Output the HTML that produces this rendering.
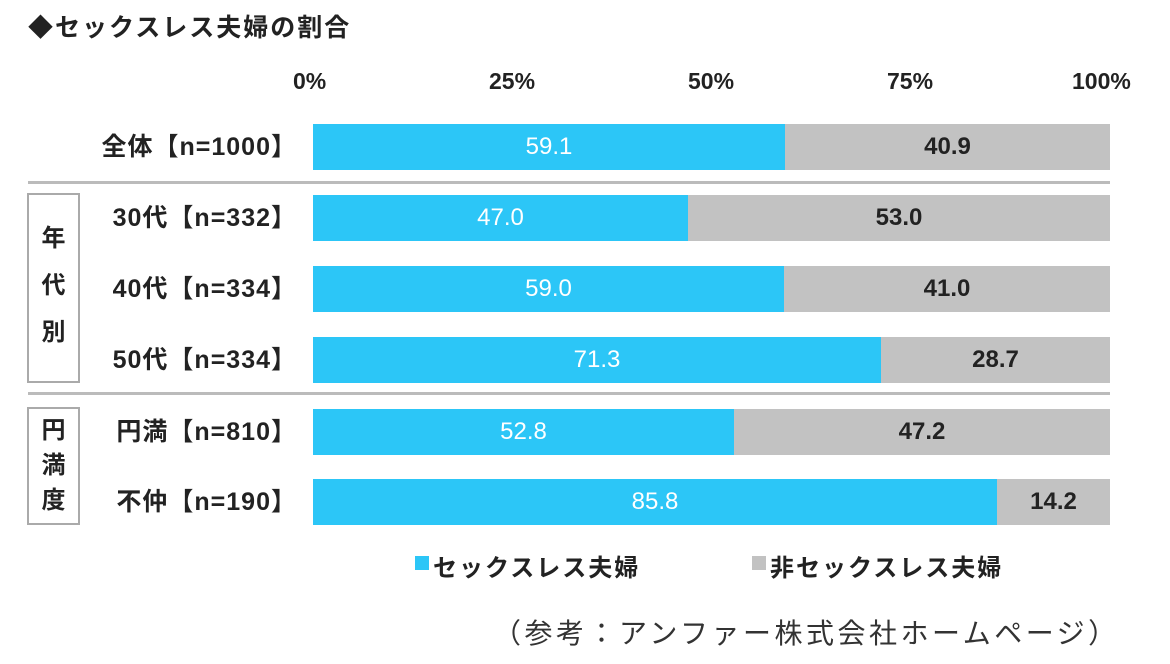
<!DOCTYPE html><html><head><meta charset="utf-8"><style>
body{margin:0;width:1170px;height:664px;background:#fff;position:relative;overflow:hidden;font-family:"Liberation Sans","Noto Sans CJK JP",sans-serif;font-weight:bold;color:#222}
.a{position:absolute;white-space:nowrap}
.t{font-size:23px}
.bar{position:absolute;height:46px;display:flex;align-items:center;justify-content:center;font-size:24px;font-weight:normal}
.b{background:#2cc6f7;color:#fff;left:313px}
.g{background:#c2c2c2;color:#222;font-weight:bold}
.lab{position:absolute;right:873px;font-size:25px;letter-spacing:1px;height:46px;line-height:46px}
.box{position:absolute;left:27px;width:53px;border:2px solid #aaa;box-sizing:border-box;font-size:24px;text-align:center}
.hl{position:absolute;left:28px;width:1082px;height:3px;background:#bbb}
</style></head><body>
<div class="a" style="left:28px;top:8px;font-size:25px;letter-spacing:2px">◆セックスレス夫婦の割合</div>
<div class="a t" style="left:293px;top:68px">0%</div>
<div class="a t" style="left:489px;top:68px">25%</div>
<div class="a t" style="left:688px;top:68px">50%</div>
<div class="a t" style="left:887px;top:68px">75%</div>
<div class="a t" style="left:1072px;top:68px">100%</div>

<div class="lab" style="top:124px">全体【n=1000】</div>
<div class="bar b" style="top:124px;width:472px">59.1</div>
<div class="bar g" style="top:124px;left:785px;width:325px">40.9</div>
<div class="hl" style="top:181px"></div>

<div class="lab" style="top:195px">30代【n=332】</div>
<div class="bar b" style="top:195px;width:375px">47.0</div>
<div class="bar g" style="top:195px;left:688px;width:422px">53.0</div>
<div class="lab" style="top:266px">40代【n=334】</div>
<div class="bar b" style="top:266px;width:471px">59.0</div>
<div class="bar g" style="top:266px;left:784px;width:326px">41.0</div>
<div class="lab" style="top:337px">50代【n=334】</div>
<div class="bar b" style="top:337px;width:568px">71.3</div>
<div class="bar g" style="top:337px;left:881px;width:229px">28.7</div>
<div class="box" style="top:193px;height:190px;padding-top:20px;line-height:47px">年<br>代<br>別</div>
<div class="hl" style="top:392px"></div>

<div class="lab" style="top:409px">円満【n=810】</div>
<div class="bar b" style="top:409px;width:421px">52.8</div>
<div class="bar g" style="top:409px;left:734px;width:376px">47.2</div>
<div class="lab" style="top:479px">不仲【n=190】</div>
<div class="bar b" style="top:479px;width:684px">85.8</div>
<div class="bar g" style="top:479px;left:997px;width:113px">14.2</div>
<div class="box" style="top:407px;height:118px;padding-top:4px;line-height:35px">円<br>満<br>度</div>

<div class="a" style="left:415px;top:556px;width:14px;height:14px;background:#2cc6f7"></div>
<div class="a" style="left:433px;top:548px;font-size:24px;letter-spacing:2px">セックスレス夫婦</div>
<div class="a" style="left:752px;top:556px;width:14px;height:14px;background:#c2c2c2"></div>
<div class="a" style="left:770px;top:548px;font-size:24px;letter-spacing:2px">非セックスレス夫婦</div>
<div class="a" style="left:493px;top:612px;font-size:28px;letter-spacing:3.5px;font-weight:normal;color:#333">（参考：アンファー株式会社ホームページ）</div>
</body></html>
